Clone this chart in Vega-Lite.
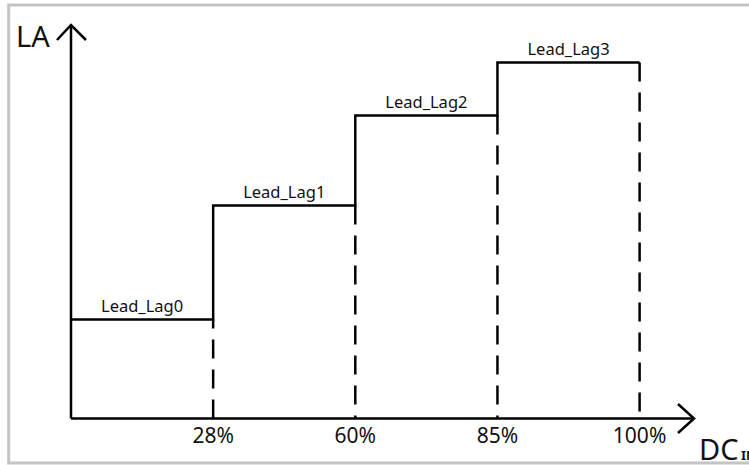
{
  "$schema": "https://vega.github.io/schema/vega-lite/v6.json",
  "width": 749,
  "height": 465,
  "autosize": {"type": "none"},
  "padding": 0,
  "background": "white",
  "config": {"view": {"stroke": null}},
  "encoding": {
    "x": {"field": "x", "type": "quantitative", "scale": {"domain": [-0.49947, 4.76961], "nice": false, "zero": false}, "axis": null},
    "y": {"field": "y", "type": "quantitative", "scale": {"domain": [-0.465, 4.185], "nice": false, "zero": false}, "axis": null}
  },
  "layer": [
    {
      "data": {"values": [
        {"x": -0.4383, "x2": 6, "y": 4.135, "y2": -0.445}
      ]},
      "mark": {"type": "rect", "fill": null, "stroke": "#c4c4c4", "strokeWidth": 3, "clip": false},
      "encoding": {"x2": {"field": "x2"}, "y2": {"field": "y2"}}
    },
    {
      "data": {"values": [
        {"x": 0, "x2": 0, "y": 0, "y2": 3.935},
        {"x": 0, "x2": 4.383, "y": 0, "y2": 0}
      ]},
      "mark": {"type": "rule", "color": "#000", "strokeWidth": 2.5},
      "encoding": {"x2": {"field": "x2"}, "y2": {"field": "y2"}}
    },
    {
      "data": {"values": [
        {"grp": "ya", "ord": 1, "x": -0.0985, "y": 3.785},
        {"grp": "ya", "ord": 2, "x": 0, "y": 3.935},
        {"grp": "ya", "ord": 3, "x": 0.1055, "y": 3.785},
        {"grp": "xa", "ord": 1, "x": 4.27, "y": 0.145},
        {"grp": "xa", "ord": 2, "x": 4.383, "y": 0},
        {"grp": "xa", "ord": 3, "x": 4.27, "y": -0.145}
      ]},
      "mark": {"type": "line", "color": "#000", "strokeWidth": 2.5, "strokeJoin": "miter"},
      "encoding": {"detail": {"field": "grp"}, "order": {"field": "ord", "type": "quantitative"}}
    },
    {
      "data": {"values": [
        {"x": 1, "y": 0, "y2": 0.99},
        {"x": 2, "y": 2.13, "y2": 0},
        {"x": 3, "y": 3.03, "y2": 0},
        {"x": 4, "y": 3.56, "y2": 0}
      ]},
      "mark": {"type": "rule", "color": "#000", "strokeWidth": 2.5, "strokeDash": [19, 11], "strokeCap": "butt"},
      "encoding": {"y2": {"field": "y2"}}
    },
    {
      "data": {"values": [
        {"ord": 1, "x": 0, "y": 0.99},
        {"ord": 2, "x": 1, "y": 0.99},
        {"ord": 3, "x": 1, "y": 2.13},
        {"ord": 4, "x": 2, "y": 2.13},
        {"ord": 5, "x": 2, "y": 3.03},
        {"ord": 6, "x": 3, "y": 3.03},
        {"ord": 7, "x": 3, "y": 3.56},
        {"ord": 8, "x": 4, "y": 3.56}
      ]},
      "mark": {"type": "line", "color": "#000", "strokeWidth": 2.5, "strokeJoin": "miter", "strokeCap": "butt"},
      "encoding": {"order": {"field": "ord", "type": "quantitative"}}
    },
    {
      "data": {"values": [
        {"label": "Lead_Lag0", "x": 0.5, "y": 0.99},
        {"label": "Lead_Lag1", "x": 1.5, "y": 2.13},
        {"label": "Lead_Lag2", "x": 2.5, "y": 3.03},
        {"label": "Lead_Lag3", "x": 3.5, "y": 3.56}
      ]},
      "mark": {"type": "text", "font": "Noto Sans", "fontSize": 16.5, "color": "#111", "align": "center", "baseline": "alphabetic", "dy": -8},
      "encoding": {"text": {"field": "label"}}
    },
    {
      "data": {"values": [
        {"label": "28%", "x": 1, "y": -0.248},
        {"label": "60%", "x": 2, "y": -0.248},
        {"label": "85%", "x": 3, "y": -0.248},
        {"label": "100%", "x": 4, "y": -0.248}
      ]},
      "mark": {"type": "text", "font": "Noto Sans", "fontSize": 21, "color": "#111", "align": "center", "baseline": "alphabetic"},
      "encoding": {"text": {"field": "label"}}
    },
    {
      "data": {"values": [
        {"label": "LA", "x": -0.387, "y": 3.715},
        {"label": "DC", "x": 4.418, "y": -0.415}
      ]},
      "mark": {"type": "text", "font": "Noto Sans", "fontSize": 29, "color": "#111", "align": "left", "baseline": "alphabetic"},
      "encoding": {"text": {"field": "label"}}
    },
    {
      "data": {"values": [
        {"label": "IN", "x": 4.713, "y": -0.415}
      ]},
      "mark": {"type": "text", "font": "Noto Sans", "fontSize": 13, "fontWeight": "bold", "color": "#111", "align": "left", "baseline": "alphabetic"},
      "encoding": {"text": {"field": "label"}}
    }
  ]
}
